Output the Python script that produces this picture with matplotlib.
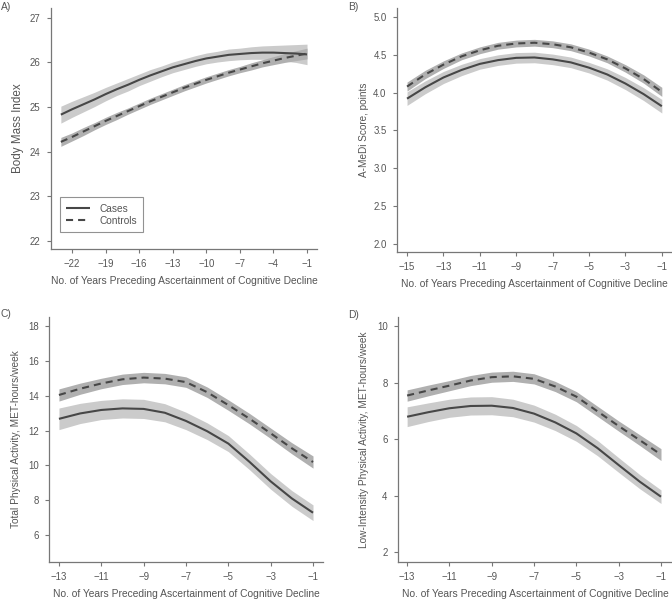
import numpy as np
import matplotlib
matplotlib.use("Agg")
import matplotlib.pyplot as plt

plt.rcParams['font.family'] = ['Liberation Sans', 'DejaVu Sans']

# ---------------- data ----------------
# Panel A: Body Mass Index
a_years = list(range(-23, 0))
a_cases = [24.83, 24.95, 25.06, 25.17, 25.29, 25.40, 25.50, 25.61, 25.71, 25.80, 25.89, 25.96,
           26.03, 26.09, 26.13, 26.17, 26.19, 26.21, 26.22, 26.22, 26.21, 26.20, 26.18]
a_cases_hw = [0.19, 0.18, 0.17, 0.16, 0.15, 0.14, 0.14, 0.13, 0.13, 0.12, 0.12, 0.12,
              0.12, 0.12, 0.12, 0.13, 0.13, 0.14, 0.15, 0.16, 0.18, 0.20, 0.23]
a_ctrl = [24.22, 24.33, 24.45, 24.57, 24.69, 24.80, 24.91, 25.02, 25.13, 25.23, 25.33, 25.43,
          25.52, 25.61, 25.69, 25.77, 25.84, 25.91, 25.98, 26.04, 26.10, 26.15, 26.20]
a_ctrl_hw = [0.10, 0.09, 0.09, 0.08, 0.08, 0.08, 0.07, 0.07, 0.07, 0.07, 0.07, 0.07,
             0.07, 0.07, 0.07, 0.07, 0.07, 0.08, 0.08, 0.09, 0.10, 0.11, 0.12]

# Panel B: A-MeDi score
b_years = list(range(-15, 0))
b_cases = [3.92, 4.07, 4.20, 4.30, 4.38, 4.43, 4.46, 4.465, 4.44, 4.40, 4.33, 4.24, 4.12, 3.98, 3.82]
b_cases_hw = [0.09, 0.085, 0.08, 0.075, 0.07, 0.07, 0.07, 0.07, 0.07, 0.07, 0.07, 0.075, 0.08, 0.085, 0.09]
b_ctrl = [4.08, 4.24, 4.37, 4.48, 4.56, 4.62, 4.65, 4.66, 4.64, 4.60, 4.53, 4.44, 4.32, 4.18, 4.01]
b_ctrl_hw = [0.06, 0.055, 0.05, 0.045, 0.045, 0.045, 0.045, 0.045, 0.045, 0.045, 0.045, 0.045, 0.05, 0.055, 0.06]

# Panel C: Total physical activity
c_years = list(range(-13, 0))
c_cases = [12.67, 12.98, 13.18, 13.27, 13.24, 13.02, 12.55, 11.96, 11.25, 10.20, 9.08, 8.10, 7.28]
c_cases_hw = [0.62, 0.58, 0.55, 0.55, 0.55, 0.52, 0.50, 0.48, 0.46, 0.45, 0.45, 0.45, 0.45]
c_ctrl = [14.04, 14.40, 14.70, 14.94, 15.04, 14.98, 14.78, 14.20, 13.46, 12.68, 11.84, 10.98, 10.19]
c_ctrl_hw = [0.35, 0.32, 0.30, 0.30, 0.30, 0.30, 0.30, 0.30, 0.30, 0.30, 0.30, 0.32, 0.35]

# Panel D: Low-intensity physical activity
d_years = list(range(-13, 0))
d_cases = [6.79, 6.95, 7.09, 7.17, 7.18, 7.10, 6.90, 6.59, 6.20, 5.68, 5.08, 4.49, 3.96]
d_cases_hw = [0.35, 0.33, 0.32, 0.32, 0.32, 0.31, 0.30, 0.29, 0.28, 0.27, 0.26, 0.25, 0.24]
d_ctrl = [7.54, 7.72, 7.89, 8.07, 8.19, 8.22, 8.13, 7.86, 7.50, 6.98, 6.46, 5.96, 5.45]
d_ctrl_hw = [0.20, 0.19, 0.18, 0.18, 0.18, 0.18, 0.18, 0.18, 0.18, 0.18, 0.18, 0.19, 0.21]

xlabel = "No. of Years Preceding Ascertainment of Cognitive Decline"

panels = [
    dict(tag="A)", rect=[0.0759, 0.5857, 0.3958, 0.401], x=a_years,
         cases=a_cases, chw=a_cases_hw, ctrl=a_ctrl, khw=a_ctrl_hw,
         xlim=(-23.88, -0.11), ylim=(21.82, 27.22), xticks=[-22, -19, -16, -13, -10, -7, -4, -1],
         yticks=[22, 23, 24, 25, 26, 27], yfmt="{:.0f}", ylabel="Body Mass Index",
         tagpos=(0.001, 0.988), legend=True, ylabsize=8.4, ylpad=4),
    dict(tag="B)", rect=[0.5908, 0.5807, 0.4092, 0.406], x=b_years,
         cases=b_cases, chw=b_cases_hw, ctrl=b_ctrl, khw=b_ctrl_hw,
         xlim=(-15.55, -0.44), ylim=(1.89, 5.12), xticks=[-15, -13, -11, -9, -7, -5, -3, -1],
         yticks=[2.0, 2.5, 3.0, 3.5, 4.0, 4.5, 5.0], yfmt="{:.1f}", ylabel="A-MeDi Score, points",
         tagpos=(0.518, 0.988), legend=False, ylabsize=7.2, ylpad=3),
    dict(tag="C)", rect=[0.0729, 0.0649, 0.4077, 0.4077], x=c_years,
         cases=c_cases, chw=c_cases_hw, ctrl=c_ctrl, khw=c_ctrl_hw,
         xlim=(-13.47, -0.53), ylim=(4.45, 18.52), xticks=[-13, -11, -9, -7, -5, -3, -1],
         yticks=[6, 8, 10, 12, 14, 16, 18], yfmt="{:.0f}",
         ylabel="Total Physical Activity, MET-hours/week",
         tagpos=(0.001, 0.477), legend=False, ylabsize=7.3, ylpad=5),
    dict(tag="D)", rect=[0.5923, 0.0649, 0.4077, 0.4077], x=d_years,
         cases=d_cases, chw=d_cases_hw, ctrl=d_ctrl, khw=d_ctrl_hw,
         xlim=(-13.43, -0.48), ylim=(1.65, 10.32), xticks=[-13, -11, -9, -7, -5, -3, -1],
         yticks=[2, 4, 6, 8, 10], yfmt="{:.0f}",
         ylabel="Low-Intensity Physical Activity, MET-hours/week",
         tagpos=(0.518, 0.476), legend=False, ylabsize=7.3, ylpad=6),
]

text_c = "#555555"
line_c = "#474747"
band_cases = "#cbcbcb"
band_ctrl = "#b0b0b0"

fig = plt.figure(figsize=(6.72, 6.01), dpi=100)

def fmt_minus(v, f):
    s = f.format(v)
    return s.replace("-", "\u2212")

for p in panels:
    ax = fig.add_axes(p["rect"])
    x = np.array(p["x"], dtype=float)
    cs = np.array(p["cases"]); chw = np.array(p["chw"])
    ct = np.array(p["ctrl"]); khw = np.array(p["khw"])
    ax.fill_between(x, cs - chw, cs + chw, color=band_cases, lw=0, zorder=1)
    ax.fill_between(x, ct - khw, ct + khw, color=band_ctrl, lw=0, zorder=1)
    ax.plot(x, cs, color=line_c, lw=1.5, solid_capstyle='butt', solid_joinstyle='round',
            zorder=3, label="Cases")
    ax.plot(x, ct, color=line_c, lw=1.5, dashes=(3.4, 2.4), zorder=3, label="Controls")
    ax.set_xlim(*p["xlim"]); ax.set_ylim(*p["ylim"])
    ax.set_xticks(p["xticks"])
    ax.set_xticklabels([fmt_minus(v, "{:d}") for v in p["xticks"]])
    ax.set_yticks(p["yticks"])
    ax.set_yticklabels([p["yfmt"].format(v) for v in p["yticks"]])
    for s in ["top", "right"]:
        ax.spines[s].set_visible(False)
    for s in ["left", "bottom"]:
        ax.spines[s].set_color("#777777")
        ax.spines[s].set_linewidth(0.9)
    ax.tick_params(direction="out", length=3, width=0.8, color="#777777",
                   labelcolor=text_c, labelsize=6.9, pad=4.5)
    ax.set_xlabel(xlabel, fontsize=7.4, color=text_c, labelpad=5)
    ax.set_ylabel(p["ylabel"], fontsize=p["ylabsize"], color=text_c, labelpad=p["ylpad"])
    fig.text(p["tagpos"][0], p["tagpos"][1], p["tag"], fontsize=7.4, color=text_c,
             ha="left", va="center")
    if p["legend"]:
        leg = ax.legend(loc="lower left", bbox_to_anchor=(0.034, 0.07), fontsize=7.3,
                        frameon=True, fancybox=False, handlelength=2.4,
                        borderpad=0.6, labelspacing=0.25, handletextpad=0.9,
                        borderaxespad=0)
        leg.get_frame().set_edgecolor("#777777")
        leg.get_frame().set_linewidth(0.8)
        for t in leg.get_texts():
            t.set_color(text_c)

fig.savefig("out.png", dpi=100)
